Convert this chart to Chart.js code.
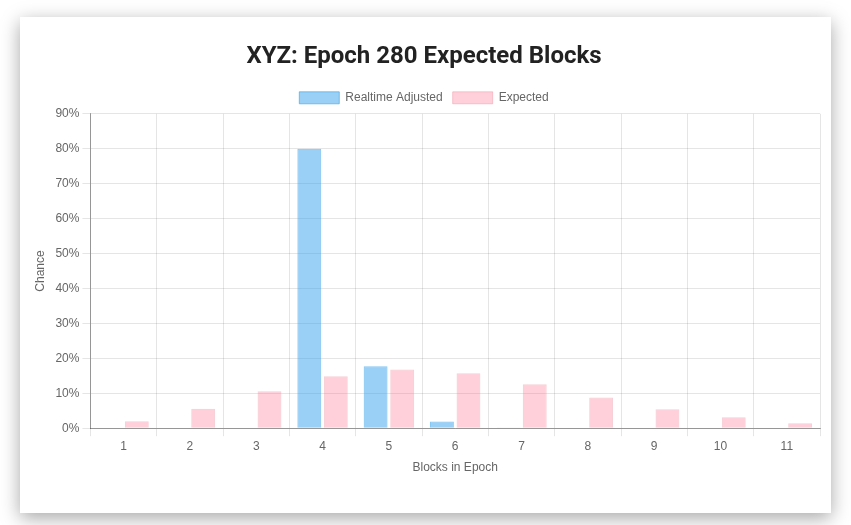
<!DOCTYPE html>
<html>
<head>
<meta charset="utf-8">
<script src="https://cdn.jsdelivr.net/npm/chart.js@4/dist/chart.umd.min.js"></script>
<style>
  html, body { margin: 0; padding: 0; background: #fff; width: 851px; height: 525px; overflow: hidden; }
  .card {
    position: absolute; left: 20px; top: 17px; width: 811px; height: 496px;
    background: #fff; box-shadow: 0 5px 18px rgba(0,0,0,0.35);
  }
  #blocksChart { display: block; }
</style>
</head>
<body>
<div class="card">
  <canvas id="blocksChart" width="811" height="496"></canvas>
</div>
<script>
// blocks in epoch
const blockCounts = ['1', '2', '3', '4', '5', '6', '7', '8', '9', '10', '11'];
// chance in percent
const realtimeAdjusted = [0, 0, 0, 80, 17.7, 1.9, 0.2, 0, 0, 0, 0];
const expected = [2.0, 5.6, 10.6, 14.9, 16.8, 15.7, 12.6, 8.8, 5.4, 3.1, 1.4];
const seriesNames = ['Realtime Adjusted', 'Expected'];

const tickFont = { family: "'Liberation Sans', Arial, sans-serif", size: 12 };

const ctx = document.getElementById('blocksChart').getContext('2d');
const chart = new Chart(ctx, {
    type: 'bar',
    data: {
        labels: blockCounts,
        datasets: [
            {
                label: seriesNames[0],
                data: realtimeAdjusted,
                backgroundColor: 'rgba(54, 162, 235, 0.5)',
                borderColor: 'rgba(54, 162, 235, 0.6)',
                borderWidth: 1
            },
            {
                label: seriesNames[1],
                data: expected,
                backgroundColor: 'rgba(255, 99, 132, 0.3)',
                borderColor: 'rgba(230, 120, 140, 0.35)',
                borderWidth: 1
            }
        ]
    },
    options: {
        responsive: false,
        animation: false,
        layout: { padding: { left: 8, right: 11, top: 10, bottom: 34 } },
        scales: {
            x: {
                title: { display: true, text: 'Blocks in Epoch', color: '#666', font: tickFont },
                ticks: { color: '#666', font: tickFont },
                grid: { color: 'rgba(0,0,0,0.1)', tickLength: 8 },
                border: { color: 'rgba(0,0,0,0.35)' }
            },
            y: {
                min: 0,
                max: 90,
                title: { display: true, text: 'Chance', color: '#666', font: tickFont, padding: { top: 5, bottom: 5 } },
                ticks: {
                    stepSize: 10,
                    color: '#666',
                    font: tickFont,
                    callback: (v) => v + '%'
                },
                grid: { color: 'rgba(0,0,0,0.1)', tickLength: 8 },
                border: { color: 'rgba(0,0,0,0.35)' }
            }
        },
        plugins: {
            title: {
                display: true,
                text: 'XYZ: Epoch 280 Expected Blocks',
                color: '#222',
                font: { family: 'Roboto', size: 24, weight: 'bold' },
                padding: { top: 16, bottom: 10 }
            },
            legend: {
                labels: { color: '#666', font: tickFont, boxWidth: 40, boxHeight: 12 }
            },
            tooltip: { enabled: false }
        }
    }
});
</script>
</body>
</html>
